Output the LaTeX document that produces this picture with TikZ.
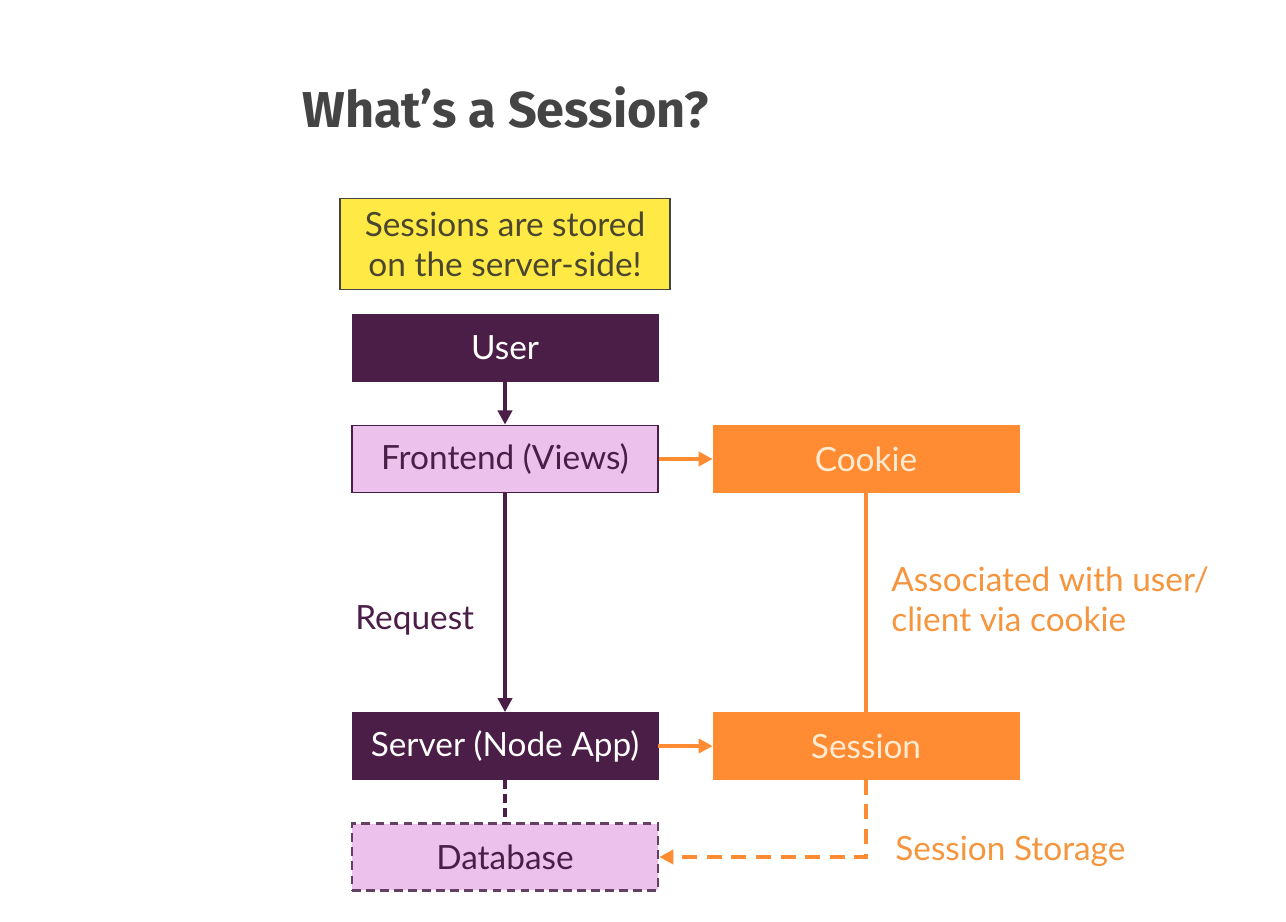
\documentclass[tikz,border=0pt]{standalone}
\usepackage{fontspec}
\setmainfont{Lato}
\newfontfamily\titlefont{Fira Sans}
\usetikzlibrary{arrows.meta}
\definecolor{dpurple}{HTML}{4A1E47}
\definecolor{lpink}{HTML}{ECC2EC}
\definecolor{orng}{HTML}{FF8C33}
\definecolor{lorng}{HTML}{F5963F}
\definecolor{cream}{HTML}{FFEBD2}
\definecolor{yell}{HTML}{FFE945}
\definecolor{ytext}{HTML}{4A4630}
\definecolor{tgray}{HTML}{444444}
\tikzset{
  box/.style={rectangle, minimum width=6.12cm, minimum height=1.34cm, inner sep=0pt, font=\fontsize{19}{22}\selectfont},
  darkbox/.style={box, fill=dpurple, draw=dpurple, text=white},
  pinkbox/.style={box, fill=lpink, draw=dpurple, line width=1.1pt, text=dpurple},
  dbbox/.style={box, fill=lpink, draw=dpurple!85, line width=1.5pt, dash pattern=on 5pt off 3pt, text=dpurple},
  orbox/.style={box, fill=orng, draw=orng, text=cream},
  parrow/.style={draw=dpurple, line width=2pt, -{Triangle[length=8pt,width=8pt]}},
  oarrow/.style={draw=orng, line width=2pt, -{Triangle[length=8pt,width=8pt]}},
  oline/.style={draw=orng, line width=2pt},
  pdash/.style={draw=dpurple, line width=2pt, dash pattern=on 5pt off 3pt},
  odash/.style={draw=orng, line width=2pt, dash pattern=on 8.5pt off 5.5pt, -{Triangle[length=8pt,width=8pt]}},
  lbl/.style={font=\fontsize{19}{22.5}\selectfont, inner sep=0pt}
}
\begin{document}
\begin{tikzpicture}[x=0.02cm,y=-0.02cm]
\useasboundingbox[fill=white] (0,0) rectangle (1286,922);
\node[anchor=base west, inner sep=0pt, text=tgray, font=\titlefont\bfseries\fontsize{28.7}{34}\selectfont] (title) at (302,128) {What’s a Session?};
\node[rectangle, fill=yell, draw=tgray, line width=0.8pt, minimum width=6.6cm, minimum height=1.82cm, text=ytext, align=center, font=\fontsize{19}{22.7}\selectfont] (note) at (505,244) {Sessions are stored\\on the server-side!};
\node[darkbox] (user) at (505,347.5) {User};
\node[pinkbox] (front) at (505,459) {Frontend (Views)};
\node[orbox] (cookie) at (866,459) {Cookie};
\node[darkbox] (server) at (505,746) {Server (Node App)};
\node[orbox] (session) at (866,746) {Session};
\node[dbbox] (db) at (505,857) {Database};
\draw[parrow] (user) -- (front);
\draw[parrow] (front) -- (server);
\draw[oarrow] (front) -- (cookie);
\draw[oarrow] (server) -- (session);
\draw[oline] (cookie) -- (session);
\draw[pdash] (server) -- (db);
\draw[odash] (session.south) |- (db.east);
\node[lbl, anchor=west, text=dpurple] (req) at (355,620) {Request};
\node[lbl, anchor=north west, text=lorng, align=left] (assoc) at (891,567) {Associated with user/\\client via cookie};
\node[lbl, anchor=west, text=lorng] (stor) at (895,851) {Session Storage};
\end{tikzpicture}
\end{document}
